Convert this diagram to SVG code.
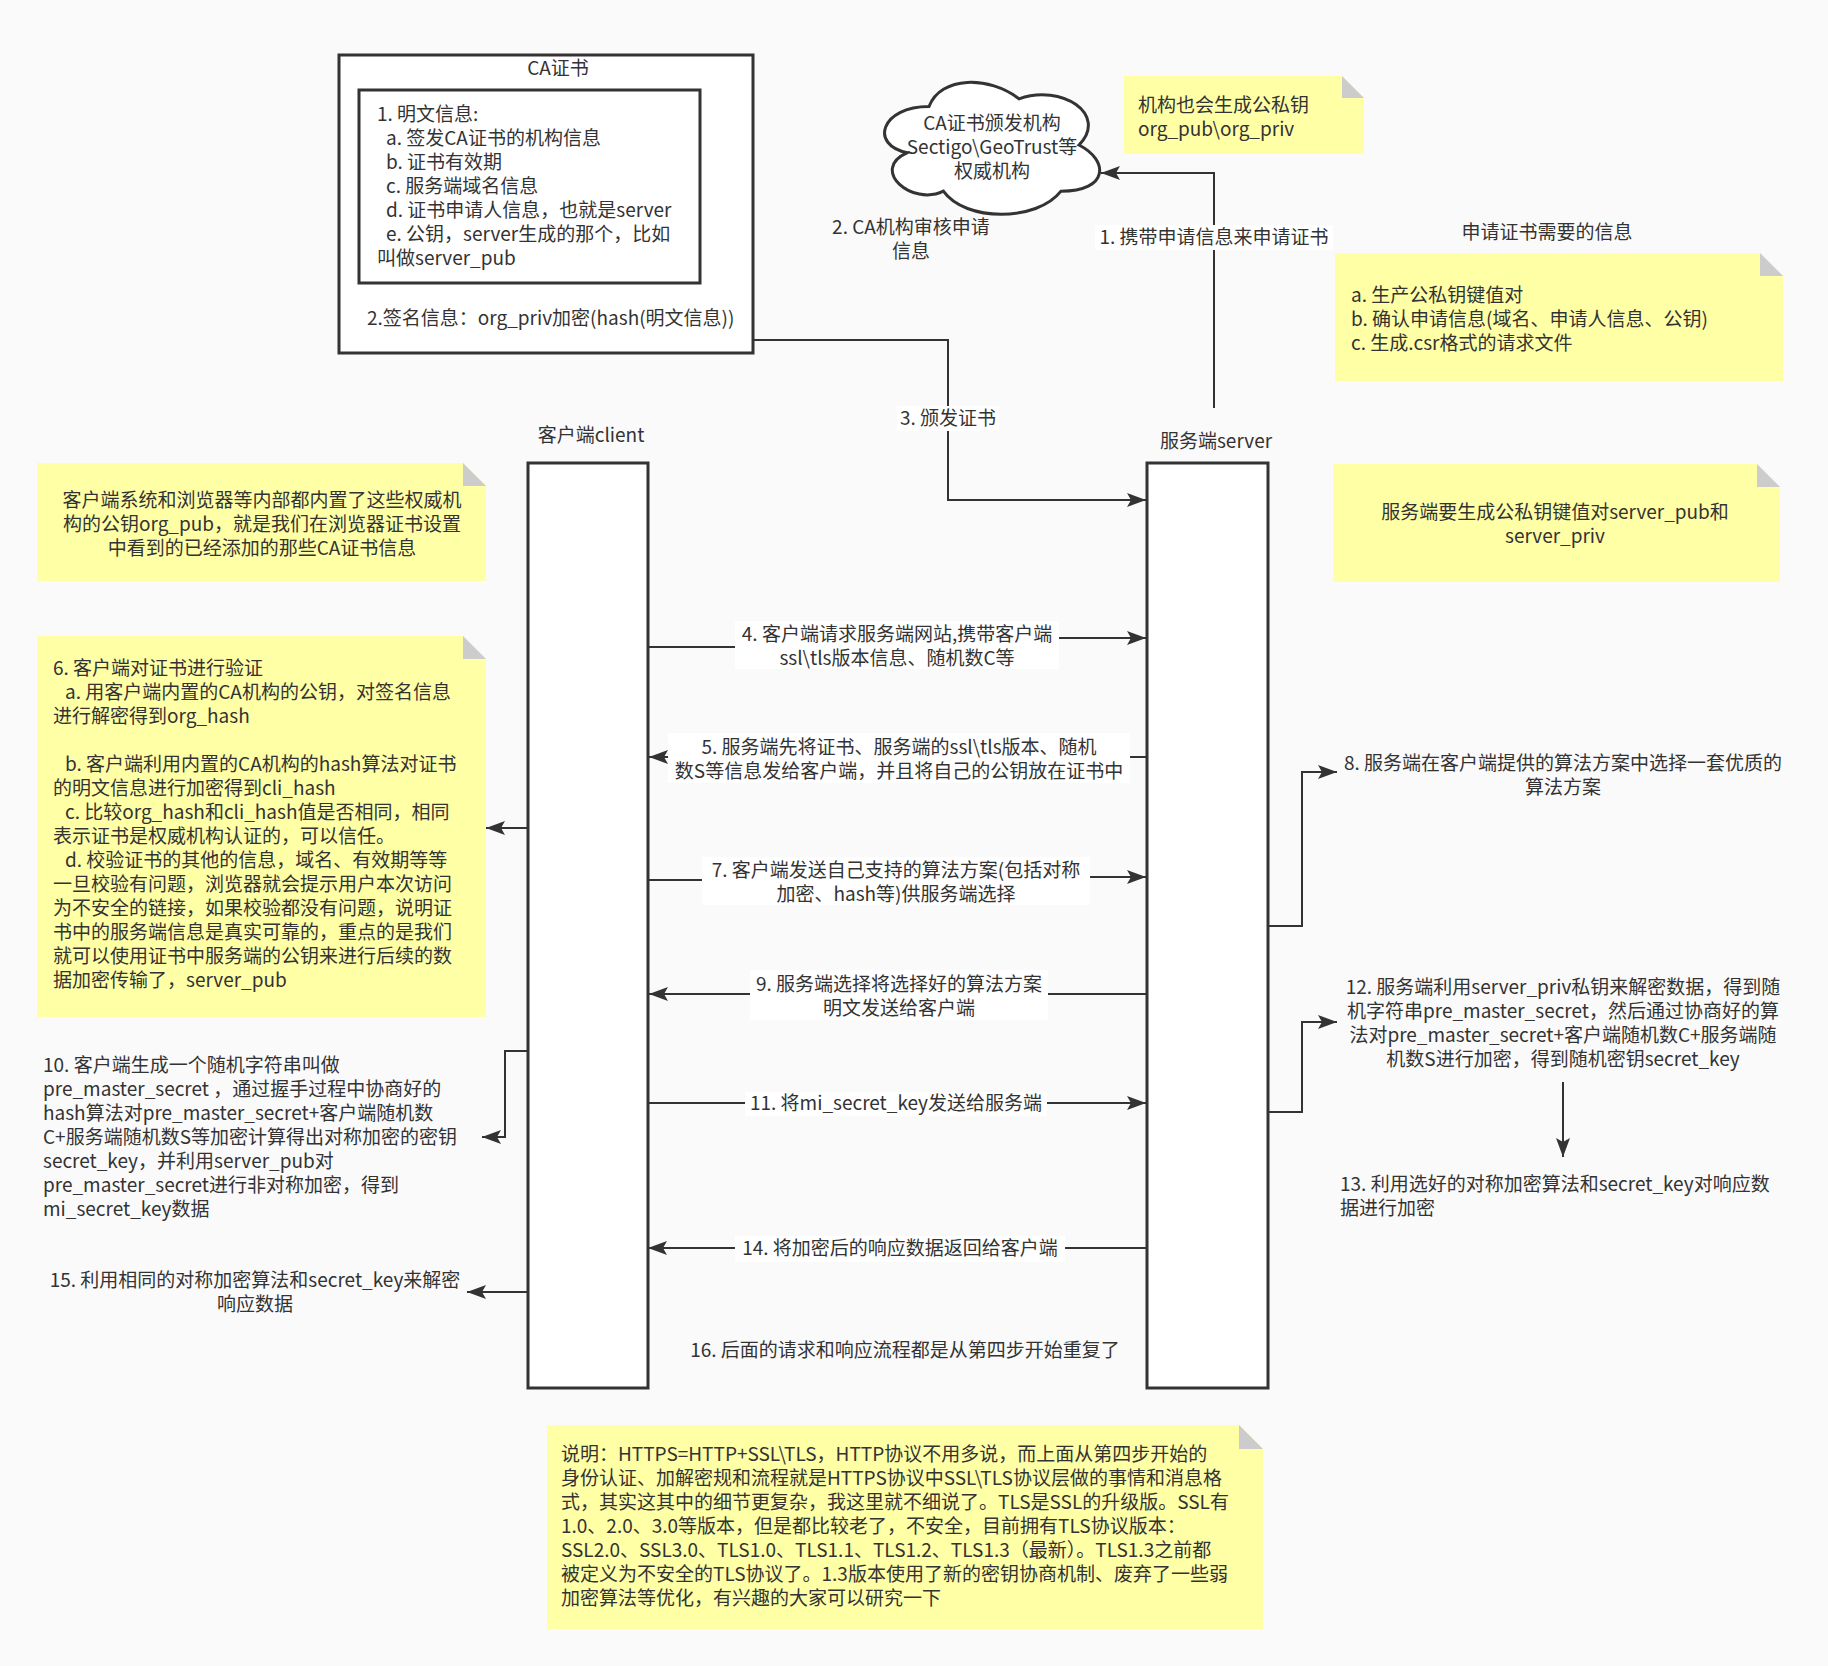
<svg xmlns="http://www.w3.org/2000/svg" width="1828" height="1666" viewBox="0 0 1828 1666">
<defs>
<style>
text{font-family:"Noto Sans CJK SC","Noto Sans",sans-serif;font-size:19px;fill:#333333;}
.m{text-anchor:middle;}
.box{fill:#ffffff;stroke:#333333;stroke-width:3;}
.note{fill:#ffffa6;stroke:none;}
.fold{fill:#cccccc;stroke:none;}
.con{fill:none;stroke:#333333;stroke-width:2;}
.lbg{fill:#ffffff;stroke:none;}
</style>
<marker id="arr" markerUnits="userSpaceOnUse" markerWidth="20" markerHeight="14" refX="19" refY="7" orient="auto">
<path d="M0,0 L19,7 L0,14 L4,7 Z" fill="#333333"/>
</marker>
</defs>
<rect x="0" y="0" width="1828" height="1666" fill="#fafafa"/>

<g id="connectors">
<path class="con" d="M1214,408 V173 H1101" marker-end="url(#arr)"/>
<path class="con" d="M753,340 H948 V500 H1146" marker-end="url(#arr)"/>
<path class="con" d="M648,647 H800 V638 H1146" marker-end="url(#arr)"/>
<path class="con" d="M1147,757 H649" marker-end="url(#arr)"/>
<path class="con" d="M528,828 H486" marker-end="url(#arr)"/>
<path class="con" d="M648,880 H800 V877 H1146" marker-end="url(#arr)"/>
<path class="con" d="M1268,926 H1302 V772 H1337" marker-end="url(#arr)"/>
<path class="con" d="M1147,994 H649" marker-end="url(#arr)"/>
<path class="con" d="M528,1051 H505 V1137 H482" marker-end="url(#arr)"/>
<path class="con" d="M648,1103 H1146" marker-end="url(#arr)"/>
<path class="con" d="M1268,1112 H1302 V1022 H1337" marker-end="url(#arr)"/>
<path class="con" d="M1563,1082 V1157" marker-end="url(#arr)"/>
<path class="con" d="M1147,1248 H648" marker-end="url(#arr)"/>
<path class="con" d="M528,1292 H467" marker-end="url(#arr)"/>
<g id="labels">
<rect class="lbg" x="1095" y="225" width="238" height="25"/>
<text class="m" x="1214" y="244">1. 携带申请信息来申请证书</text>
<text class="m" x="911" y="234">2. CA机构审核申请</text>
<text class="m" x="911" y="258">信息</text>
<rect class="lbg" x="897" y="406" width="102" height="25"/>
<text class="m" x="948" y="425">3. 颁发证书</text>
<rect class="lbg" x="735" y="621" width="324" height="48"/>
<text class="m" x="897" y="641">4. 客户端请求服务端网站,携带客户端</text>
<text class="m" x="897" y="665">ssl\tls版本信息、随机数C等</text>
<rect class="lbg" x="668" y="733" width="462" height="50"/>
<text class="m" x="899" y="754">5. 服务端先将证书、服务端的ssl\tls版本、随机</text>
<text class="m" x="899" y="778">数S等信息发给客户端，并且将自己的公钥放在证书中</text>
<rect class="lbg" x="702" y="857" width="388" height="48"/>
<text class="m" x="896" y="877">7. 客户端发送自己支持的算法方案(包括对称</text>
<text class="m" x="896" y="901">加密、hash等)供服务端选择</text>
<rect class="lbg" x="750" y="970" width="298" height="50"/>
<text class="m" x="899" y="991">9. 服务端选择将选择好的算法方案</text>
<text class="m" x="899" y="1015">明文发送给客户端</text>
<rect class="lbg" x="745" y="1092" width="302" height="24"/>
<text class="m" x="896" y="1110">11. 将mi_secret_key发送给服务端</text>
<rect class="lbg" x="735" y="1236" width="330" height="26"/>
<text class="m" x="900" y="1255">14. 将加密后的响应数据返回给客户端</text>
</g>
</g>

<g id="ca-cert">
<rect class="box" x="339" y="55" width="414" height="298"/>
<text class="m" x="558" y="75">CA证书</text>
<rect class="box" x="359" y="90" width="341" height="193"/>
<text x="377" y="121">1. 明文信息:</text>
<text x="386" y="145">a. 签发CA证书的机构信息</text>
<text x="386" y="169">b. 证书有效期</text>
<text x="386" y="193">c. 服务端域名信息</text>
<text x="386" y="217">d. 证书申请人信息，也就是server</text>
<text x="386" y="241">e. 公钥，server生成的那个，比如</text>
<text x="377" y="265">叫做server_pub</text>
<text x="367" y="325">2.签名信息：org_priv加密(hash(明文信息))</text>
</g>

<g id="ca-cloud">
<path d="M929,106.5 C881,106.5 869,145 907.4,152.7 C869,169.64 912.2,206.6 943.4,191.2 C965,222 1037,222 1061,191.2 C1109,191.2 1109,160.4 1079,145 C1109,114.2 1061,83.4 1019,98.8 C989,75.7 941,75.7 929,106.5 Z" fill="#ffffff" stroke="#333333" stroke-width="3"/>
<text class="m" x="992" y="130">CA证书颁发机构</text>
<text class="m" x="992" y="154">Sectigo\GeoTrust等</text>
<text class="m" x="992" y="178">权威机构</text>
</g>

<g id="note-org-key">
<path class="note" d="M1124,76 H1342 L1364,98 V154 H1124 Z"/>
<path class="fold" d="M1342,76 V98 H1364 Z"/>
<text x="1138" y="112">机构也会生成公私钥</text>
<text x="1138" y="136">org_pub\org_priv</text>
</g>

<g id="note-apply-info">
<text class="m" x="1547" y="239">申请证书需要的信息</text>
<path class="note" d="M1335,253 H1760 L1783,276 V381 H1335 Z"/>
<path class="fold" d="M1760,253 V276 H1783 Z"/>
<text x="1351" y="302">a. 生产公私钥键值对</text>
<text x="1351" y="326">b. 确认申请信息(域名、申请人信息、公钥)</text>
<text x="1351" y="350">c. 生成.csr格式的请求文件</text>
</g>

<g id="client">
<text class="m" x="591" y="442">客户端client</text>
<rect class="box" x="528" y="463" width="120" height="925"/>
</g>

<g id="server">
<text class="m" x="1216" y="448">服务端server</text>
<rect class="box" x="1147" y="463" width="121" height="925"/>
</g>

<g id="note-builtin">
<path class="note" d="M37,463 H463 L486,486 V581 H37 Z"/>
<path class="fold" d="M463,463 V486 H486 Z"/>
<text class="m" x="262" y="507">客户端系统和浏览器等内部都内置了这些权威机</text>
<text class="m" x="262" y="531">构的公钥org_pub，就是我们在浏览器证书设置</text>
<text class="m" x="262" y="555">中看到的已经添加的那些CA证书信息</text>
</g>

<g id="note-server-key">
<path class="note" d="M1333,464 H1757 L1780,487 V582 H1333 Z"/>
<path class="fold" d="M1757,464 V487 H1780 Z"/>
<text class="m" x="1555" y="519">服务端要生成公私钥键值对server_pub和</text>
<text class="m" x="1555" y="543">server_priv</text>
</g>

<g id="note-verify">
<path class="note" d="M37,636 H463 L486,659 V1017 H37 Z"/>
<path class="fold" d="M463,636 V659 H486 Z"/>
<text x="53" y="675">6. 客户端对证书进行验证</text>
<text x="65" y="699">a. 用客户端内置的CA机构的公钥，对签名信息</text>
<text x="53" y="723">进行解密得到org_hash</text>
<text x="65" y="771">b. 客户端利用内置的CA机构的hash算法对证书</text>
<text x="53" y="795">的明文信息进行加密得到cli_hash</text>
<text x="65" y="819">c. 比较org_hash和cli_hash值是否相同，相同</text>
<text x="53" y="843">表示证书是权威机构认证的，可以信任。</text>
<text x="65" y="867">d. 校验证书的其他的信息，域名、有效期等等</text>
<text x="53" y="891">一旦校验有问题，浏览器就会提示用户本次访问</text>
<text x="53" y="915">为不安全的链接，如果校验都没有问题，说明证</text>
<text x="53" y="939">书中的服务端信息是真实可靠的，重点的是我们</text>
<text x="53" y="963">就可以使用证书中服务端的公钥来进行后续的数</text>
<text x="53" y="987">据加密传输了，server_pub</text>
</g>

<g id="step-8">
<text class="m" x="1563" y="770">8. 服务端在客户端提供的算法方案中选择一套优质的</text>
<text class="m" x="1563" y="794">算法方案</text>
</g>

<g id="step-10">
<text x="43" y="1072">10. 客户端生成一个随机字符串叫做</text>
<text x="43" y="1096">pre_master_secret ，通过握手过程中协商好的</text>
<text x="43" y="1120">hash算法对pre_master_secret+客户端随机数</text>
<text x="43" y="1144">C+服务端随机数S等加密计算得出对称加密的密钥</text>
<text x="43" y="1168">secret_key，并利用server_pub对</text>
<text x="43" y="1192">pre_master_secret进行非对称加密，得到</text>
<text x="43" y="1216">mi_secret_key数据</text>
</g>

<g id="step-12">
<text class="m" x="1563" y="994">12. 服务端利用server_priv私钥来解密数据，得到随</text>
<text class="m" x="1563" y="1018">机字符串pre_master_secret，然后通过协商好的算</text>
<text class="m" x="1563" y="1042">法对pre_master_secret+客户端随机数C+服务端随</text>
<text class="m" x="1563" y="1066">机数S进行加密，得到随机密钥secret_key</text>
</g>

<g id="step-13">
<text x="1340" y="1191">13. 利用选好的对称加密算法和secret_key对响应数</text>
<text x="1340" y="1215">据进行加密</text>
</g>

<g id="step-15">
<text class="m" x="255" y="1287">15. 利用相同的对称加密算法和secret_key来解密</text>
<text class="m" x="255" y="1311">响应数据</text>
</g>

<g id="step-16">
<text class="m" x="905" y="1357">16. 后面的请求和响应流程都是从第四步开始重复了</text>
</g>

<g id="note-desc">
<path class="note" d="M547,1425 H1239 L1263,1449 V1629 H547 Z"/>
<path class="fold" d="M1239,1425 V1449 H1263 Z"/>
<text x="561" y="1461">说明：HTTPS=HTTP+SSL\TLS，HTTP协议不用多说，而上面从第四步开始的</text>
<text x="561" y="1485">身份认证、加解密规和流程就是HTTPS协议中SSL\TLS协议层做的事情和消息格</text>
<text x="561" y="1509">式，其实这其中的细节更复杂，我这里就不细说了。TLS是SSL的升级版。SSL有</text>
<text x="561" y="1533">1.0、2.0、3.0等版本，但是都比较老了，不安全，目前拥有TLS协议版本：</text>
<text x="561" y="1557">SSL2.0、SSL3.0、TLS1.0、TLS1.1、TLS1.2、TLS1.3（最新）。TLS1.3之前都</text>
<text x="561" y="1581">被定义为不安全的TLS协议了。1.3版本使用了新的密钥协商机制、废弃了一些弱</text>
<text x="561" y="1605">加密算法等优化，有兴趣的大家可以研究一下</text>
</g>
</svg>
